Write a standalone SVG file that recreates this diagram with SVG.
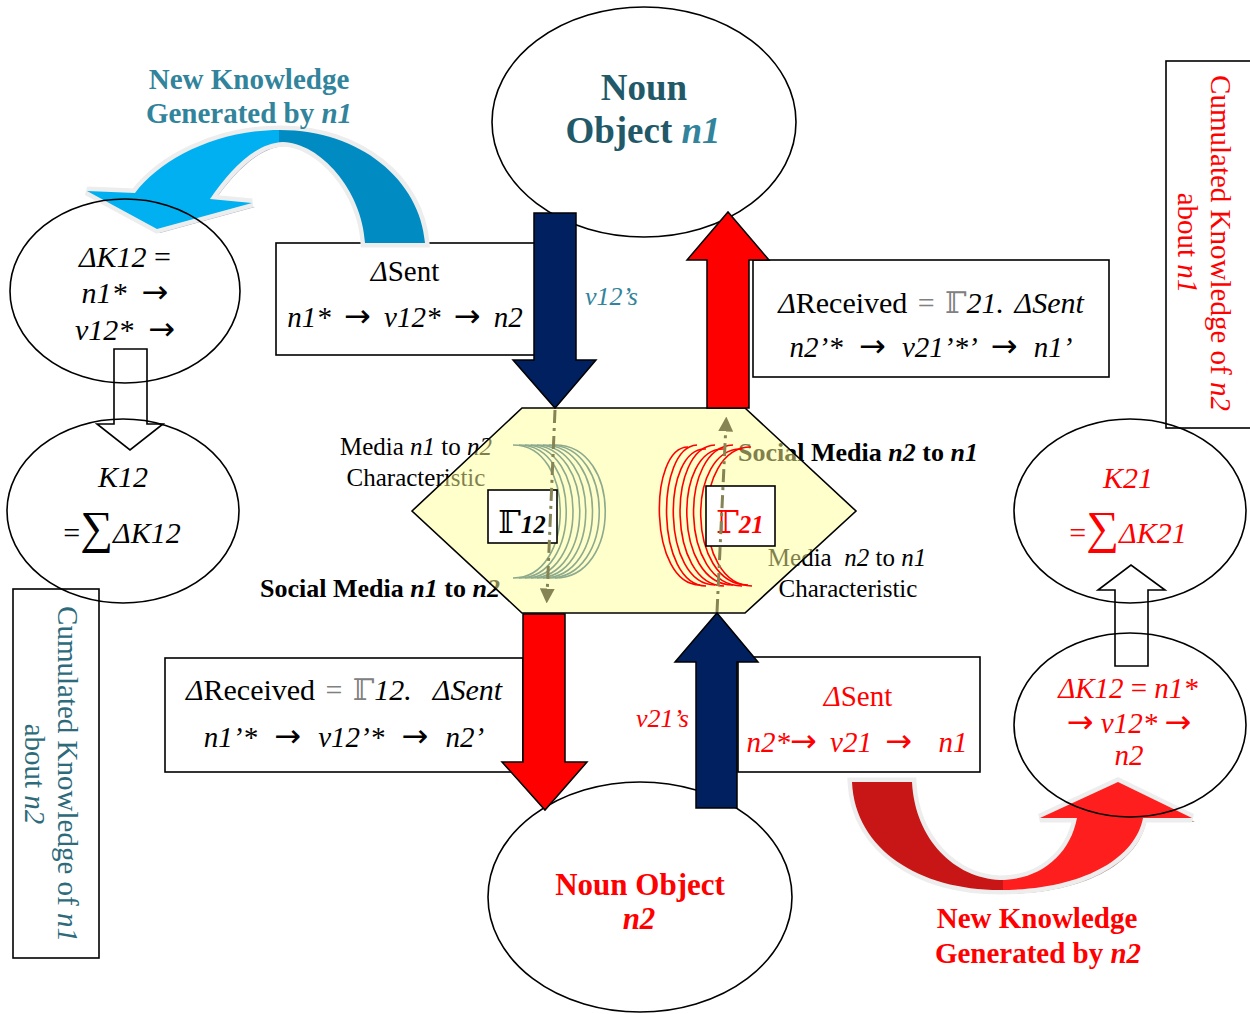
<svg xmlns="http://www.w3.org/2000/svg" width="1250" height="1014" viewBox="0 0 1250 1014">
<style>
text{font-family:"Liberation Serif","DejaVu Serif","DejaVu Sans",serif;}
.i{font-style:italic;}
.b{font-weight:bold;}
.m{text-anchor:middle;}
.r{fill:#FF0000;}
.t{fill:#31849B;}
.ar{font-family:"DejaVu Sans",sans-serif;font-style:normal;font-size:32px;}
.node{fill:none;stroke:#000;stroke-width:1.6;}
.box{fill:#fff;stroke:#000;stroke-width:1.6;}
.hol{fill:none;stroke:#000;stroke-width:1.6;}
.navy{fill:#002060;stroke:#000;stroke-width:1.5;}
.red{fill:#FF0000;stroke:#000;stroke-width:1.5;}
.dash{fill:none;stroke:#868454;stroke-width:3;stroke-dasharray:13 5 3 5;}
.g{fill:none;stroke:#8DAA8D;stroke-width:1.6;}
.rc{fill:none;stroke:#FF0000;stroke-width:1.6;}
.gr{fill:#808080;}
</style>
<defs>
<marker id="ol" viewBox="0 0 10 10" refX="5" refY="5" markerWidth="5" markerHeight="5" orient="auto" markerUnits="strokeWidth"><path d="M0,0 L10,5 L0,10 Z" fill="#868454"/></marker>
<linearGradient id="bg" gradientUnits="userSpaceOnUse" x1="80" y1="0" x2="430" y2="0"><stop offset="0.57" stop-color="#00B0F0"/><stop offset="0.57" stop-color="#008CC2"/></linearGradient>
<linearGradient id="rg" gradientUnits="userSpaceOnUse" x1="850" y1="0" x2="1200" y2="0"><stop offset="0.437" stop-color="#C81616"/><stop offset="0.437" stop-color="#FF1E1E"/></linearGradient>
</defs>
<rect width="1250" height="1014" fill="#fff"/>

<!-- labels under the semi-transparent hexagon -->
<g id="label-media-12">
<text class="m" font-size="25" x="416" y="455">Media <tspan class="i">n1</tspan> to <tspan class="i">n2</tspan></text>
<text class="m" font-size="25" x="416" y="486">Characteristic</text>
</g>
<g id="label-social-12"><text class="m b" font-size="26" x="380" y="597">Social Media <tspan class="i">n1</tspan> to <tspan class="i">n2</tspan></text></g>
<g id="label-social-21"><text class="m b" font-size="26" x="858" y="461">Social Media <tspan class="i">n2</tspan> to <tspan class="i">n1</tspan></text></g>
<g id="label-media-21">
<text class="m" font-size="25" x="847" y="566">Media &#160;<tspan class="i">n2</tspan> to <tspan class="i">n1</tspan></text>
<text class="m" font-size="25" x="848" y="597">Characteristic</text>
</g>

<g id="hexagon">
<polygon points="412,511 522,408 745,408 856,511 745,613 522,613" fill="#FFFF99" fill-opacity="0.5" stroke="#000" stroke-width="1.6"/>
<g id="arcs-12">
<path class="g" d="M513,445 C576,445 576,578 513,578"/>
<path class="g" d="M519,445 C582,445 582,578 519,578"/>
<path class="g" d="M525,445 C589,445 589,578 525,578"/>
<path class="g" d="M531,445 C596,445 596,578 531,578"/>
<path class="g" d="M537,445 C602,445 602,578 537,578"/>
<path class="g" d="M543,445 C609,445 609,578 543,578"/>
<path class="g" d="M549,445 C616,445 616,578 549,578"/>
<path class="g" d="M555,445 C622,445 622,578 555,578"/>
</g>
<g id="arcs-21">
<path class="rc" d="M688,447 C648,447 648,585 700,585"/>
<path class="rc" d="M697,445 C655,447 655,585 706,586"/>
<path class="rc" d="M706,449 C661,447 661,585 715,585"/>
<path class="rc" d="M715,445 C667,447 667,585 724,586"/>
<path class="rc" d="M724,449 C673,447 673,585 733,585"/>
<path class="rc" d="M733,445 C679,447 679,585 742,586"/>
<path class="rc" d="M742,449 C686,447 686,585 748,585"/>
<path class="rc" d="M751,447 C692,447 692,585 752,586"/>
</g>
</g>

<g id="gamma12">
<rect class="box" x="488" y="490" width="69" height="53"/>
<text class="m" x="522" y="533"><tspan font-size="32">ℾ</tspan><tspan class="b i" font-size="25">12</tspan></text>
</g>
<g id="gamma21">
<rect class="box" x="706" y="486" width="69" height="60"/>
<text class="m r" x="740" y="533"><tspan font-size="32">ℾ</tspan><tspan class="b i" font-size="25">21</tspan></text>
</g>

<!-- boxes -->
<g id="sent12">
<rect class="box" x="276" y="243" width="259" height="112"/>
<text class="m" font-size="29" x="405" y="281"><tspan class="i">Δ</tspan>Sent</text>
<text class="m i" font-size="29" x="405" y="327" word-spacing="6">n1* <tspan class="ar">→</tspan> v12* <tspan class="ar">→</tspan> n2</text>
</g>
<g id="received21">
<rect class="box" x="753" y="260" width="356" height="117"/>
<text class="m" font-size="30" x="931" y="313" word-spacing="3"><tspan class="i">Δ</tspan>Received <tspan class="gr">= ℾ</tspan><tspan class="i">21. ΔSent</tspan></text>
<text class="m i" font-size="29" x="931" y="357" word-spacing="9">n2’* <tspan class="ar">→</tspan> v21’*’ <tspan class="ar">→</tspan> n1’</text>
</g>
<g id="received12">
<rect class="box" x="165" y="658" width="358" height="114"/>
<text class="m" font-size="30" x="344" y="700" word-spacing="3"><tspan class="i">Δ</tspan>Received <tspan class="gr">= ℾ</tspan><tspan class="i">12. &#160;ΔSent</tspan></text>
<text class="m i" font-size="29" x="344" y="747" word-spacing="10">n1’* <tspan class="ar">→</tspan> v12’* <tspan class="ar">→</tspan> n2’</text>
</g>
<g id="sent21">
<rect class="box" x="738" y="657" width="242" height="115"/>
<text class="m r" font-size="29" x="858" y="706"><tspan class="i">Δ</tspan>Sent</text>
<text class="m r i" font-size="29" x="857" y="752" word-spacing="6">n2*<tspan class="ar">→</tspan> v21 <tspan class="ar">→</tspan> &#160;n1</text>
</g>

<!-- rotated side boxes -->
<g id="cumulated12">
<rect class="box" x="13" y="589" width="86" height="369"/>
<text class="m" font-size="29" fill="#2D6A7A" transform="translate(58,774) rotate(90)"><tspan x="0" y="0">Cumulated Knowledge of <tspan class="i">n1</tspan></tspan><tspan x="0" y="33">about <tspan class="i">n2</tspan></tspan></text>
</g>
<g id="cumulated21">
<rect class="box" x="1166" y="61" width="100" height="367"/>
<text class="m r" font-size="29" transform="translate(1211,243) rotate(90)"><tspan x="0" y="0">Cumulated Knowledge of <tspan class="i">n2</tspan></tspan><tspan x="0" y="33">about <tspan class="i">n1</tspan></tspan></text>
</g>

<!-- curved 3D arrows -->
<g id="curved-connectors">
<g id="new-knowledge-n1-arrow">
<path d="M425,243 C420,180 360,130 280,130 C215,130 160,160 135,193 L87,191 L157,229 L252,203 L210,199 C230,170 255,143 283,142 C320,143 362,190 365,243 Z" fill="#9AA4B4" transform="translate(3,4)"/>
<path d="M425,243 C420,180 360,130 280,130 C215,130 160,160 135,193 L87,191 L157,229 L252,203 L210,199 C230,170 255,143 283,142 C320,143 362,190 365,243 Z" fill="url(#bg)" stroke="#EDEDED" stroke-width="9" paint-order="stroke"/>
</g>
<g id="new-knowledge-n2-arrow">
<path d="M852,782 L912,782 C915,840 955,878 1000,880 C1040,880 1070,855 1077,818 L1040,818 L1118,782 L1192,818 L1143,818 C1135,860 1080,890 1000,890 C920,890 855,850 852,782 Z" fill="#B09090" transform="translate(3,4)"/>
<path d="M852,782 L912,782 C915,840 955,878 1000,880 C1040,880 1070,855 1077,818 L1040,818 L1118,782 L1192,818 L1143,818 C1135,860 1080,890 1000,890 C920,890 855,850 852,782 Z" fill="url(#rg)" stroke="#EDEDED" stroke-width="9" paint-order="stroke"/>
</g>
</g>

<!-- nodes -->
<g id="noun-n1">
<ellipse class="node" cx="644" cy="122" rx="152" ry="115" fill="#fff"/>
<text class="m b" font-size="37" fill="#215968" x="644" y="100">Noun</text>
<text class="m b" font-size="37" fill="#215968" x="643" y="143">Object <tspan class="i" fill="#31849B">n1</tspan></text>
</g>
<g id="noun-n2">
<ellipse class="node" cx="640" cy="897" rx="152" ry="115" fill="#fff"/>
<text class="m b r" font-size="31" x="640" y="895">Noun Object</text>
<text class="m b i r" font-size="31" x="639" y="929">n2</text>
</g>
<g id="dk12">
<ellipse class="node" cx="125" cy="291" rx="115" ry="92"/>
<text class="m i" font-size="30" x="125" y="267">ΔK12 <tspan font-style="normal">=</tspan></text>
<text class="m i" font-size="30" x="125" y="303">n1* &#160;<tspan class="ar">→</tspan></text>
<text class="m i" font-size="30" x="125" y="340">v12* &#160;<tspan class="ar">→</tspan></text>
</g>
<g id="k12">
<ellipse class="node" cx="123" cy="511" rx="116" ry="92"/>
<text class="m i" font-size="30" x="123" y="487">K12</text>
<text class="m" font-size="30" x="122" y="543">=<tspan font-size="46">∑</tspan><tspan class="i">ΔK12</tspan></text>
</g>
<g id="k21">
<ellipse class="node" cx="1130" cy="511" rx="116" ry="92"/>
<text class="m i r" font-size="30" x="1128" y="488">K21</text>
<text class="m r" font-size="30" x="1128" y="543">=<tspan font-size="46">∑</tspan><tspan class="i">ΔK21</tspan></text>
</g>
<g id="dk21">
<ellipse class="node" cx="1130" cy="725" rx="116" ry="92"/>
<text class="m i r" font-size="29" x="1128" y="698">ΔK12 <tspan font-style="normal">=</tspan> n1*</text>
<text class="m i r" font-size="29" x="1129" y="733"><tspan class="ar">→</tspan> v12* <tspan class="ar">→</tspan></text>
<text class="m i r" font-size="29" x="1129" y="765">n2</text>
</g>

<!-- titles -->
<g id="title-n1">
<text class="m b t" font-size="29" x="249" y="89">New Knowledge</text>
<text class="m b t" font-size="29" x="249" y="123">Generated by <tspan class="i">n1</tspan></text>
</g>
<g id="title-n2">
<text class="m b r" font-size="29" x="1037" y="928">New Knowledge</text>
<text class="m b r" font-size="29" x="1038" y="963">Generated by <tspan class="i">n2</tspan></text>
</g>

<!-- connectors -->
<g id="connectors">
<path class="navy" d="M534,213 L576,213 L576,360 L596,360 L555,408 L513,360 L534,360 Z"/>
<path class="red" d="M707,408 L749,408 L749,260 L769,260 L728,212 L687,260 L707,260 Z"/>
<path class="red" d="M523,614 L565,614 L565,762 L587,762 L545,810 L502,762 L523,762 Z"/>
<path class="navy" d="M696,808 L737,808 L737,662 L758,662 L717,613 L675,662 L696,662 Z"/>
<path class="hol" d="M114,349 L147,349 L147,424 L163,424 L130,450 L97,424 L114,424 Z"/>
<path class="hol" d="M1115,666 L1148,666 L1148,590 L1165,590 L1131,565 L1098,590 L1115,590 Z"/>
<path class="dash" d="M555,410 L547,596" marker-end="url(#ol)"/>
<path class="dash" d="M717,612 L726,424" marker-end="url(#ol)"/>
<text class="i t" font-size="26" x="585" y="305">v12’s</text>
<text class="i r" font-size="26" x="636" y="727">v21’s</text>
</g>
</svg>
